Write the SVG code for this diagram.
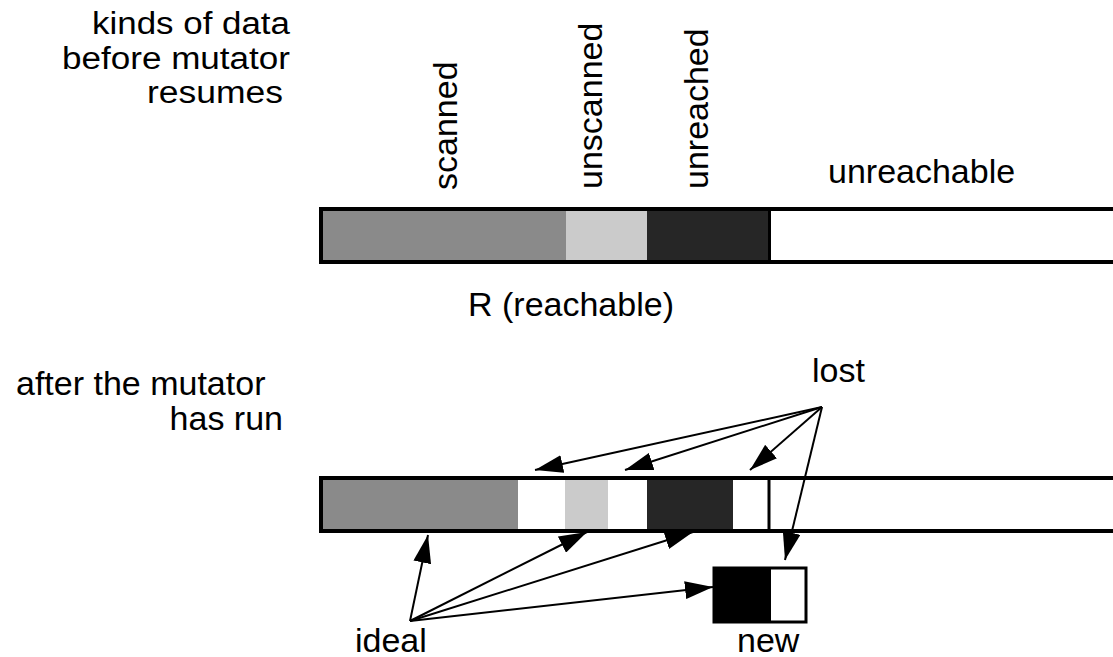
<svg xmlns="http://www.w3.org/2000/svg" width="1113" height="657" viewBox="0 0 1113 657">
<style>
text{font-family:"Liberation Sans",Arial,sans-serif;font-size:34px;fill:#000}
text.tl{font-size:31px}
.bar{fill:none;stroke:#000;stroke-width:4}
.conn line{stroke:#000;stroke-width:2;fill:none}
</style>
<defs>
<marker id="ah" markerUnits="userSpaceOnUse" markerWidth="28" markerHeight="18" viewBox="0 0 28 18" refX="28" refY="9" orient="auto">
<path d="M0,0 L28,9 L0,18 Z" fill="#000"/>
</marker>
</defs>
<rect width="1113" height="657" fill="#fff"/>
<g id="labels">
<text class="tl" x="290" y="34" text-anchor="end" textLength="198" lengthAdjust="spacingAndGlyphs">kinds of data</text>
<text class="tl" x="290" y="69" text-anchor="end" textLength="228" lengthAdjust="spacingAndGlyphs">before mutator</text>
<text class="tl" x="283" y="103" text-anchor="end" textLength="136" lengthAdjust="spacingAndGlyphs">resumes</text>
<text transform="translate(457,190) rotate(-90)">scanned</text>
<text transform="translate(602,189) rotate(-90)">unscanned</text>
<text transform="translate(708,189) rotate(-90)">unreached</text>
<text x="828" y="183">unreachable</text>
<text x="468" y="316">R (reachable)</text>
<text x="16" y="395">after the mutator</text>
<text x="283" y="430" text-anchor="end">has run</text>
<text x="812" y="382">lost</text>
<text x="355" y="652">ideal</text>
<text x="737" y="652">new</text>
</g>
<g id="bar-before">
<rect x="321" y="209" width="245" height="53" fill="#8a8a8a"/>
<rect x="566" y="209" width="81" height="53" fill="#cbcbcb"/>
<rect x="647" y="209" width="122" height="53" fill="#262626"/>
<rect class="bar" x="321" y="209" width="820" height="53"/>
<line x1="769.5" y1="209" x2="769.5" y2="262" stroke="#000" stroke-width="3"/>
</g>
<g id="bar-after">
<rect x="321" y="478" width="197" height="53" fill="#8a8a8a"/>
<rect x="565" y="478" width="43" height="53" fill="#cbcbcb"/>
<rect x="647" y="478" width="86" height="53" fill="#262626"/>
<rect class="bar" x="321" y="478" width="820" height="53"/>
<line x1="769" y1="478" x2="769" y2="531" stroke="#000" stroke-width="3"/>
</g>
<g id="new-box">
<rect x="714" y="568" width="57" height="54" fill="#000"/>
<rect x="714" y="568" width="92" height="54" fill="none" stroke="#000" stroke-width="3"/>
</g>
<g class="conn" id="connectors">
<line x1="822" y1="407" x2="535" y2="470" marker-end="url(#ah)"/>
<line x1="822" y1="407" x2="625" y2="470" marker-end="url(#ah)"/>
<line x1="822" y1="407" x2="750" y2="470" marker-end="url(#ah)"/>
<line x1="822" y1="407" x2="785" y2="560" marker-end="url(#ah)"/>
<line x1="410" y1="621" x2="428" y2="535" marker-end="url(#ah)"/>
<line x1="410" y1="621" x2="587" y2="532" marker-end="url(#ah)"/>
<line x1="410" y1="621" x2="693" y2="532" marker-end="url(#ah)"/>
<line x1="410" y1="621" x2="713" y2="587" marker-end="url(#ah)"/>
</g>
</svg>
